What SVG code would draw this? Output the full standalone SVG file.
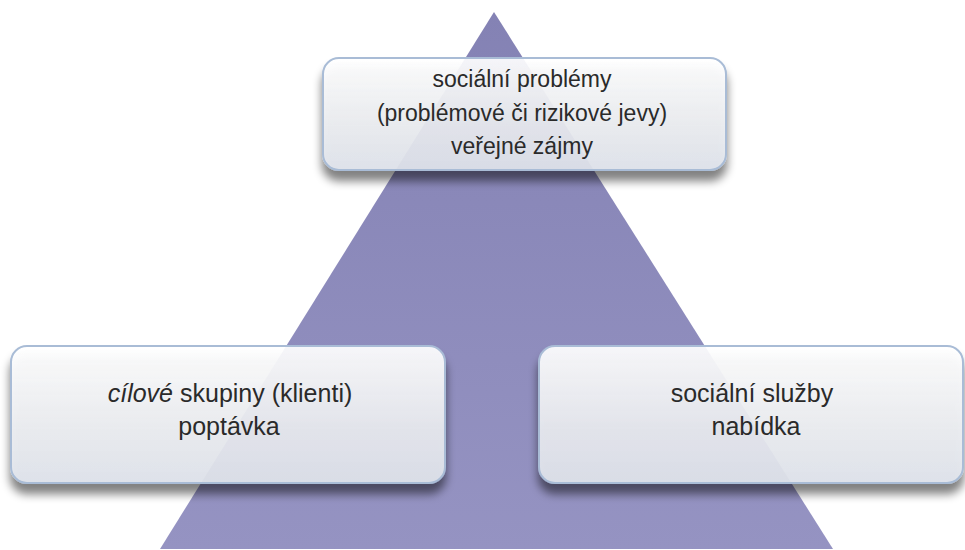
<svg xmlns="http://www.w3.org/2000/svg" width="965" height="550" viewBox="0 0 965 550">
<defs>
<linearGradient id="tri" x1="0" y1="0" x2="0" y2="1">
<stop offset="0" stop-color="#8482b4"/>
<stop offset="1" stop-color="#9593c2"/>
</linearGradient>
<linearGradient id="box" x1="0" y1="0" x2="0" y2="1">
<stop offset="0" stop-color="#ffffff" stop-opacity="0.92"/>
<stop offset="0.6" stop-color="#eef0f4" stop-opacity="0.88"/>
<stop offset="1" stop-color="#e2e6ee" stop-opacity="0.9"/>
</linearGradient>
<filter id="sh" x="-10%" y="-10%" width="120%" height="140%">
<feGaussianBlur in="SourceAlpha" stdDeviation="5"/>
<feOffset dx="0" dy="10" result="b"/>
<feComponentTransfer><feFuncA type="linear" slope="0.55"/></feComponentTransfer>
<feMerge><feMergeNode/><feMergeNode in="SourceGraphic"/></feMerge>
</filter>
</defs>
<style>
.b{fill:url(#box);stroke:#a9bcd6;stroke-width:2}
.t{font-family:"Liberation Sans",Arial,sans-serif;fill:#2a2a2a;text-anchor:middle}
.s{font-size:23px}
.l{font-size:25px}
</style>
<rect width="965" height="550" fill="#ffffff"/>
<g id="triangle">
<polygon points="494,12 833,549 160,549" fill="url(#tri)"/>
</g>
<g id="connectors"/>
<g id="top">
<rect class="b" x="323" y="58" width="403" height="112" rx="16" filter="url(#sh)"/>
<text class="t s" x="522" y="87">sociální problémy</text>
<text class="t s" x="522" y="121">(problémové či rizikové jevy)</text>
<text class="t s" x="522" y="154">veřejné zájmy</text>
</g>
<g id="left">
<rect class="b" x="11" y="346" width="434" height="137" rx="16" filter="url(#sh)"/>
<text class="t l" x="230" y="402"><tspan font-style="italic">cílové</tspan> skupiny (klienti)</text>
<text class="t l" x="229" y="435">poptávka</text>
</g>
<g id="right">
<rect class="b" x="539" y="346" width="424" height="137" rx="16" filter="url(#sh)"/>
<text class="t l" x="752" y="402">sociální služby</text>
<text class="t l" x="756" y="435">nabídka</text>
</g>
</svg>
